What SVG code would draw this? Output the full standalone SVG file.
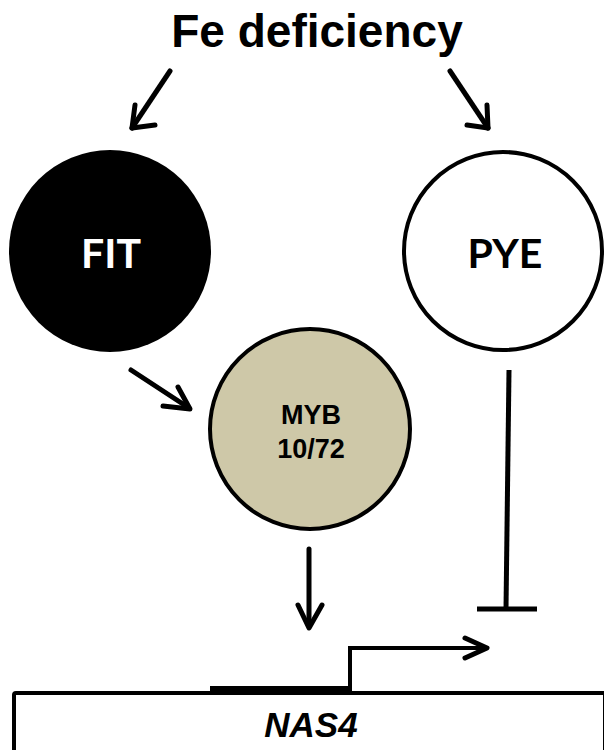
<svg xmlns="http://www.w3.org/2000/svg" width="604" height="750" viewBox="0 0 604 750">
<style>
.arr{fill:none;stroke:#000;stroke-width:5;stroke-linecap:round;stroke-linejoin:round}
.lbl{font-family:"Liberation Sans",Arial,sans-serif;font-weight:bold;text-anchor:middle;fill:#000}
.nlbl{font-family:Lato,"Open Sans",sans-serif;font-weight:bold;text-anchor:middle}
</style>
<rect width="604" height="750" fill="#fff"/>
<g id="fe-deficiency">
<text class="lbl" x="317" y="47" font-size="46">Fe deficiency</text>
</g>
<g id="FIT">
<circle cx="110" cy="251" r="101" fill="#000"/>
<text class="nlbl" x="111" y="268" font-size="41" fill="#fff">FIT</text>
</g>
<g id="PYE">
<circle cx="503" cy="251" r="99" fill="#fff" stroke="#000" stroke-width="4"/>
<text class="nlbl" x="505" y="268" font-size="41" fill="#000">PYE</text>
</g>
<g id="MYB">
<circle cx="310" cy="429" r="100" fill="#CEC8A8" stroke="#000" stroke-width="4"/>
<text class="lbl" x="311" y="424" font-size="27">MYB</text>
<text class="lbl" x="311" y="458" font-size="27">10/72</text>
</g>
<g id="NAS4">
<rect x="14" y="693" width="591" height="80" rx="2" fill="#fff" stroke="#000" stroke-width="4"/>
<rect x="210" y="686" width="140" height="9" fill="#000"/>
<text class="lbl" x="311" y="737" font-size="35" font-style="italic">NAS4</text>
</g>
<g id="connectors">
<line class="arr" x1="170" y1="71" x2="132" y2="128"/>
<polyline class="arr" points="135,105 132,128 155,125"/>
<line class="arr" x1="450" y1="71" x2="488" y2="128"/>
<polyline class="arr" points="487,105 488,128 467,125"/>
<line class="arr" x1="131" y1="370" x2="189" y2="408"/>
<polyline class="arr" points="163,406 190,409 178,387"/>
<line class="arr" x1="309" y1="549" x2="309" y2="626"/>
<polyline class="arr" points="298,605 309,628 322,605"/>
<line x1="509" y1="370" x2="506" y2="609" stroke="#000" stroke-width="5"/>
<line x1="477" y1="609" x2="537" y2="609" stroke="#000" stroke-width="5"/>
<path d="M350,694 V648 H485" fill="none" stroke="#000" stroke-width="4"/>
<polyline class="arr" stroke-width="4" points="465,638 487,648 465,658"/>
</g>
</svg>
